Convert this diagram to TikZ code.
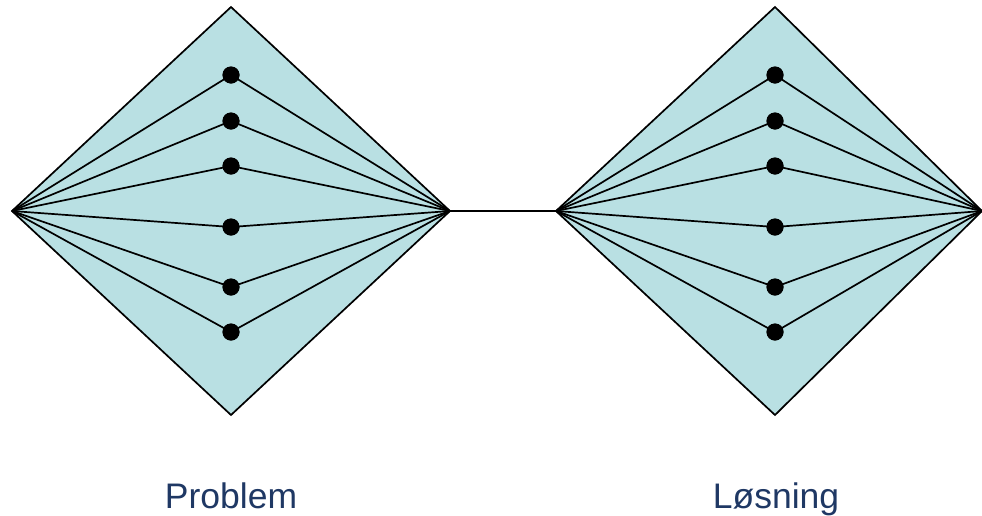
\documentclass[tikz,border=0pt]{standalone}
\usepackage{fontspec}
\setmainfont{Liberation Sans}
\definecolor{diafill}{RGB}{185,224,227}
\definecolor{labelblue}{RGB}{31,56,100}
\begin{document}
\begin{tikzpicture}[x=1pt,y=-1pt,
  diamondedge/.style={draw=black,line width=1.7pt,fill=diafill,line join=miter},
  spoke/.style={draw=black,line width=1.7pt},
  dot/.style={circle,fill=black,inner sep=0pt,minimum size=17pt},
  lbl/.style={text=labelblue,font=\fontsize{35.5}{40}\selectfont,anchor=base}]
\useasboundingbox (0,0) rectangle (982,515);
\begin{scope}
\clip (0,0) rectangle (982,515);
% left diamond
\coordinate (LL) at (12,211);
\coordinate (LT) at (231,7);
\coordinate (LR) at (450,211);
\coordinate (LB) at (231,415);
% right diamond
\coordinate (RL) at (556,211);
\coordinate (RT) at (775,7);
\coordinate (RR) at (982,211);
\coordinate (RB) at (775,415);
\draw[diamondedge] (LL) -- (LT) -- (LR) -- (LB) -- cycle;
\draw[diamondedge] (RL) -- (RT) -- (RR) -- (RB) -- cycle;
\draw[spoke] (LR) -- (RL);
\foreach \y [count=\i] in {75,121,166,227,287,332} {
  \node[dot] (a\i) at (231,\y) {};
  \node[dot] (b\i) at (775,\y) {};
  \draw[spoke] (LL) -- (a\i.center) -- (LR);
  \draw[spoke] (RL) -- (b\i.center) -- (RR);
}
\foreach \i in {1,...,6} {
  \node[dot] at (a\i) {};
  \node[dot] at (b\i) {};
}
\node[lbl] (p) at (231,508) {Problem};
\node[lbl] (l) at (776,508) {Løsning};
\end{scope}
\end{tikzpicture}
\end{document}
